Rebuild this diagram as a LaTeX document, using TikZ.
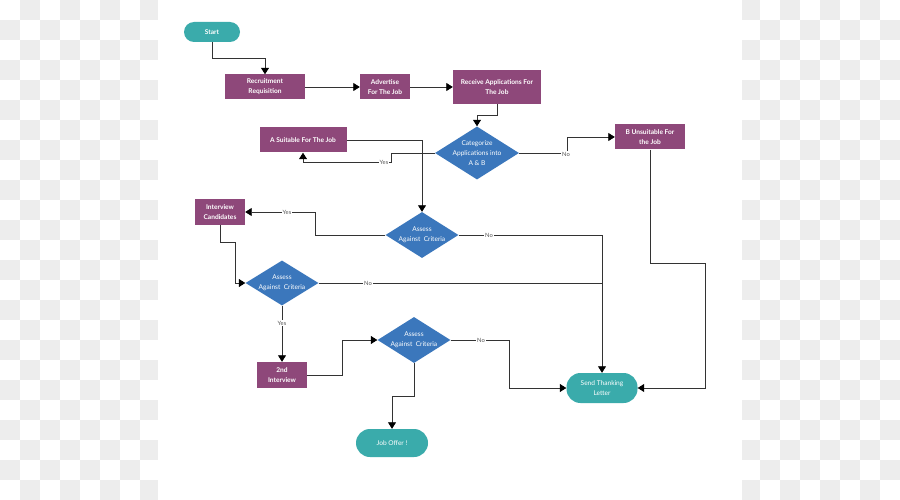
\documentclass[tikz,border=0pt]{standalone}
\usepackage{fontspec}
\setmainfont{Lato}
\usetikzlibrary{shapes.geometric,arrows.meta}
\definecolor{purp}{HTML}{8E487A}
\definecolor{teal1}{HTML}{3AABAB}
\definecolor{dblue}{HTML}{3B77BC}
\definecolor{lgray}{HTML}{EDEDED}
\definecolor{lcol}{HTML}{333333}
\definecolor{lblc}{HTML}{555555}
\tikzset{
  pbox/.style={rectangle, fill=purp, text=white, inner sep=0pt, align=center,
    font=\fontsize{6.6}{9.8}\selectfont\bfseries},
  tbox/.style={rectangle, rounded corners=10pt, fill=teal1, text=white, inner sep=0pt, align=center,
    font=\fontsize{6.6}{9.8}\selectfont},
  dia/.style={diamond, fill=dblue, inner sep=0pt},
  dtext/.style={text=white, align=center, inner sep=0pt, font=\fontsize{6.6}{10}\selectfont},
  conn/.style={draw=lcol, line width=0.8pt},
  arr/.style={conn, -{Triangle[length=6.5pt,width=8pt,color=black]}},
  lbl/.style={fill=white, text=lblc, inner sep=1.2pt, font=\fontsize{5.8}{6}\selectfont}
}
\begin{document}
\begin{tikzpicture}[x=1pt,y=-1pt]
\useasboundingbox (0,0) rectangle (900,500);
% background checkerboard
\fill[white] (0,0) rectangle (900,500);
\foreach \x in {20,60,...,880} \foreach \y in {0,40,...,480} \fill[lgray] (\x,\y) rectangle +(20,20);
\foreach \x in {0,40,...,880} \foreach \y in {20,60,...,460} \fill[lgray] (\x,\y) rectangle +(20,20);
\fill[white] (158,0) rectangle (742,500);

% nodes
\node[tbox, minimum width=56pt, minimum height=20pt, font=\fontsize{6.6}{9.8}\selectfont\bfseries] (start) at (212,32) {Start};
\node[pbox, minimum width=80pt, minimum height=25pt] (rec) at (265,87) {Recruitment\\Requisition};
\node[pbox, minimum width=50pt, minimum height=25pt] (adv) at (385,87) {Advertise\\For The Job};
\node[pbox, minimum width=88pt, minimum height=34pt] (recv) at (497,87) {Receive Applications For\\The Job};
\node[dia, minimum width=84pt, minimum height=53pt] (cat) at (477,153) {};
\node[dtext] at (cat) {Categorize\\Applications into\\A \& B};
\node[pbox, minimum width=87pt, minimum height=25pt] (asuit) at (303,140) {A Suitable For The Job};
\node[pbox, minimum width=70pt, minimum height=25pt] (bun) at (650,137) {B Unsuitable For\\the Job};
\node[dia, minimum width=73pt, minimum height=46pt] (ass1) at (422,235) {};
\node[dtext] at (ass1) {Assess\\Against\ \ Criteria};
\node[pbox, minimum width=50pt, minimum height=26pt] (intv) at (220,212) {Interview\\Candidates};
\node[dia, minimum width=73pt, minimum height=45pt] (ass2) at (282,283) {};
\node[dtext] at (ass2) {Assess\\Against\ \ Criteria};
\node[dia, minimum width=73pt, minimum height=46pt] (ass3) at (414,340) {};
\node[dtext] at (ass3) {Assess\\Against\ \ Criteria};
\node[pbox, minimum width=50pt, minimum height=26pt] (sec) at (282,375) {2nd\\Interview};
\node[tbox, rounded corners=14pt, minimum width=71pt, minimum height=30pt] (send) at (602,388) {Send Thanking\\Letter};
\node[tbox, rounded corners=14pt, minimum width=72pt, minimum height=28pt] (job) at (392,443) {Job Offer !};

% connectors
\draw[arr] (start.south) -- ++(0,16) -| (rec.north);
\draw[arr] (rec.east) -- (adv.west);
\draw[arr] (adv.east) -- (recv.west);
\draw[arr] (recv.south) -- ++(0,11) -| (cat.north);
\draw[arr] (cat.west) -- ++(-43,0) -- ++(0,9) -| (asuit.south);
\draw[arr] (asuit.east) -| (ass1.north);
\draw[arr] (cat.east) -- ++(48,0) |- (bun.west);
\draw[arr] (bun.south) |- (705,263) |- (send.east);
\draw[arr] (ass1.west) -- (315,235) |- (intv.east);
\draw[arr] (ass1.east) -| (send.north);
\draw[arr] (intv.south) |- (235,242) |- (ass2.west);
\draw[conn] (ass2.east) -- (602,283);
\draw[arr] (ass2.south) -- (sec.north);
\draw[arr] (sec.east) -- ++(35,0) |- (ass3.west);
\draw[arr] (ass3.east) -- (509,340) |- (send.west);
\draw[arr] (ass3.south) |- (392,396) -- (job.north);

% labels
\node[lbl] at (384,162) {Yes};
\node[lbl] at (566,154) {No};
\node[lbl] at (287,212) {Yes};
\node[lbl] at (489,235) {No};
\node[lbl] at (368,283) {No};
\node[lbl] at (282,323) {Yes};
\node[lbl] at (481,340) {No};
\end{tikzpicture}
\end{document}
